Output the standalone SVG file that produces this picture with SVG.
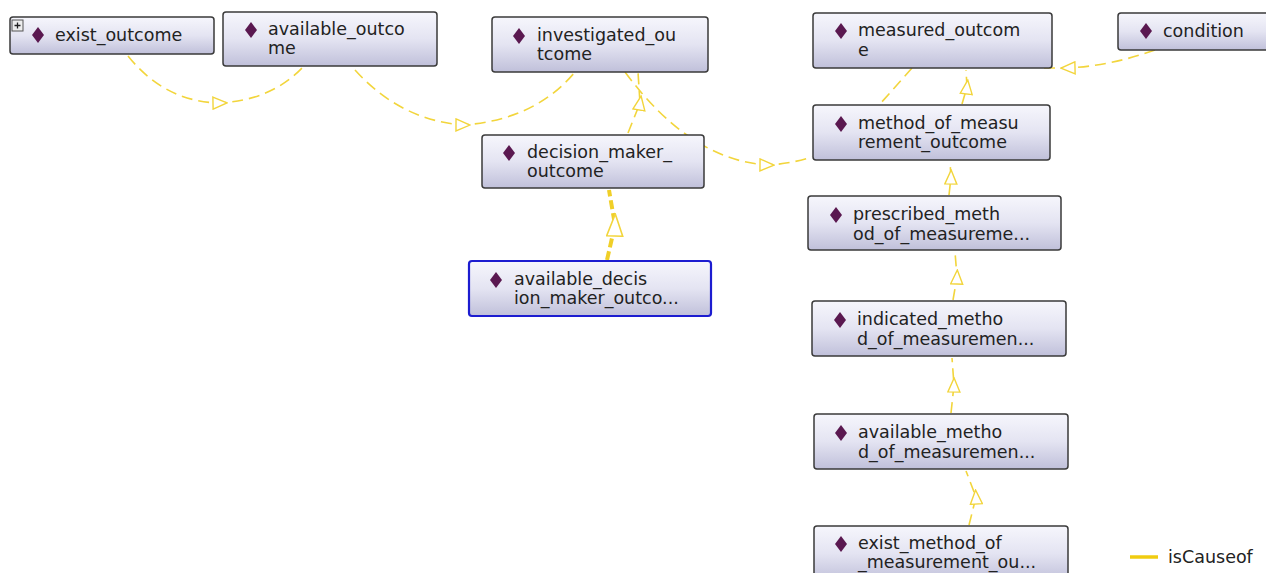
<svg xmlns="http://www.w3.org/2000/svg" width="1266" height="573" viewBox="0 0 1266 573">
<defs>
<linearGradient id="g" x1="0" y1="0" x2="0" y2="1">
<stop offset="0" stop-color="#f6f6fc"/>
<stop offset="0.5" stop-color="#e4e4f2"/>
<stop offset="1" stop-color="#c0c0da"/>
</linearGradient>
<marker id="tri" viewBox="0 0 16 14" refX="8" refY="7" markerWidth="16" markerHeight="14" markerUnits="userSpaceOnUse" orient="auto">
<path d="M1,1 L15,7 L1,13 Z" fill="#fff" stroke="#f2d53c" stroke-width="1.4"/>
</marker>
<marker id="triBig" viewBox="0 0 24 18" refX="12" refY="9" markerWidth="24" markerHeight="18" markerUnits="userSpaceOnUse" orient="auto">
<path d="M1,1 L23,9 L1,17 Z" fill="#fff" stroke="#f2d53c" stroke-width="1.6"/>
</marker>
</defs>
<style>
.box{fill:url(#g);stroke:#3a3a3a;stroke-width:1.5}
.sel{fill:url(#g);stroke:#1c1cd0;stroke-width:2.2}
.t{font-family:"DejaVu Sans",sans-serif;font-size:17.5px;fill:#222}
.dia{fill:#5a1850}
.e{fill:none;stroke:#f2d53c;stroke-width:1.6;stroke-dasharray:11,6;marker-mid:url(#tri)}
.eb{fill:none;stroke:#f0cf28;stroke-width:4;stroke-dasharray:9,4;marker-mid:url(#triBig)}
.l{fill:none;stroke:#f2d53c;stroke-width:1.6;stroke-dasharray:11,6}
</style>
<rect width="1266" height="573" fill="#fff"/>
<g id="connectors">
<path class="e" d="M128,56 Q165,102 220,103 Q272,100 303,67"/>
<path class="e" d="M355,70 Q400,120 463,125 Q535,120 575,72"/>
<path class="e" d="M628,133 L640,103 L638,72"/>
<path class="e" d="M625,72 Q690,160 767,165 Q790,164 812,157"/>
<path class="eb" d="M607,260 L615,225 L609,190"/>
<path class="l" d="M912,68 L880,104"/>
<path class="e" d="M962,104 L967,87 L966,70"/>
<path class="e" d="M1155,50 Q1110,66 1068,68 Q1052,68 1040,68"/>
<path class="e" d="M949,195 L951,177 L950,162"/>
<path class="e" d="M953,300 L957,277 L955,252"/>
<path class="e" d="M951,413 L954,385 L952,358"/>
<path class="e" d="M969,525 L976,497 L966,471"/>
</g>
<g id="exist_outcome">
<rect class="box" x="10" y="17" width="204" height="37" rx="3"/>
<rect x="12" y="20" width="11" height="11" fill="#eee" stroke="#555" stroke-width="1"/>
<path d="M14.5,25.5 H20.5 M17.5,22.5 V28.5" stroke="#222" stroke-width="1.3"/>
<path class="dia" d="M38,27 L44,35 L38,43 L32,35 Z"/>
<text class="t" x="55" y="41">exist_outcome</text>
</g>
<g id="available_outcome">
<rect class="box" x="223" y="12" width="214" height="54" rx="3"/>
<path class="dia" d="M251,22 L257,30 L251,38 L245,30 Z"/>
<text class="t" x="268" y="35">available_outco</text>
<text class="t" x="268" y="54">me</text>
</g>
<g id="investigated_outcome">
<rect class="box" x="492" y="17" width="216" height="55" rx="3"/>
<path class="dia" d="M519,28 L525,36 L519,44 L513,36 Z"/>
<text class="t" x="537" y="41">investigated_ou</text>
<text class="t" x="537" y="60">tcome</text>
</g>
<g id="decision_maker_outcome">
<rect class="box" x="482" y="135" width="222" height="53" rx="3"/>
<path class="dia" d="M509,145 L515,153 L509,161 L503,153 Z"/>
<text class="t" x="527" y="158">decision_maker_</text>
<text class="t" x="527" y="177">outcome</text>
</g>
<g id="available_decision_maker_outcome">
<rect class="sel" x="469" y="261" width="242" height="55" rx="3"/>
<path class="dia" d="M496,272 L502,280 L496,288 L490,280 Z"/>
<text class="t" x="514" y="285">available_decis</text>
<text class="t" x="514" y="304">ion_maker_outco...</text>
</g>
<g id="measured_outcome">
<rect class="box" x="813" y="13" width="239" height="55" rx="3"/>
<path class="dia" d="M841,23 L847,31 L841,39 L835,31 Z"/>
<text class="t" x="858" y="36">measured_outcom</text>
<text class="t" x="858" y="56">e</text>
</g>
<g id="condition">
<rect class="box" x="1118" y="13" width="160" height="37" rx="3"/>
<path class="dia" d="M1146,23 L1152,31 L1146,39 L1140,31 Z"/>
<text class="t" x="1163" y="37">condition</text>
</g>
<g id="method_of_measurement_outcome">
<rect class="box" x="813" y="105" width="237" height="55" rx="3"/>
<path class="dia" d="M841,116 L847,124 L841,132 L835,124 Z"/>
<text class="t" x="858" y="129">method_of_measu</text>
<text class="t" x="858" y="148">rement_outcome</text>
</g>
<g id="prescribed_method_of_measurement">
<rect class="box" x="808" y="196" width="253" height="54" rx="3"/>
<path class="dia" d="M836,207 L842,215 L836,223 L830,215 Z"/>
<text class="t" x="853" y="220">prescribed_meth</text>
<text class="t" x="853" y="240">od_of_measureme...</text>
</g>
<g id="indicated_method_of_measurement">
<rect class="box" x="812" y="301" width="254" height="55" rx="3"/>
<path class="dia" d="M840,312 L846,320 L840,328 L834,320 Z"/>
<text class="t" x="857" y="325">indicated_metho</text>
<text class="t" x="857" y="345">d_of_measuremen...</text>
</g>
<g id="available_method_of_measurement">
<rect class="box" x="814" y="414" width="254" height="55" rx="3"/>
<path class="dia" d="M841,425 L847,433 L841,441 L835,433 Z"/>
<text class="t" x="858" y="438">available_metho</text>
<text class="t" x="858" y="458">d_of_measuremen...</text>
</g>
<g id="exist_method_of_measurement_outcome">
<rect class="box" x="814" y="526" width="254" height="55" rx="3"/>
<path class="dia" d="M841,536 L847,544 L841,552 L835,544 Z"/>
<text class="t" x="858" y="549">exist_method_of</text>
<text class="t" x="858" y="568">_measurement_ou...</text>
</g>
<g id="legend">
<line x1="1130" y1="557" x2="1158" y2="557" stroke="#f0cc10" stroke-width="3.5"/>
<text class="t" x="1168" y="563">isCauseof</text>
</g>
</svg>
